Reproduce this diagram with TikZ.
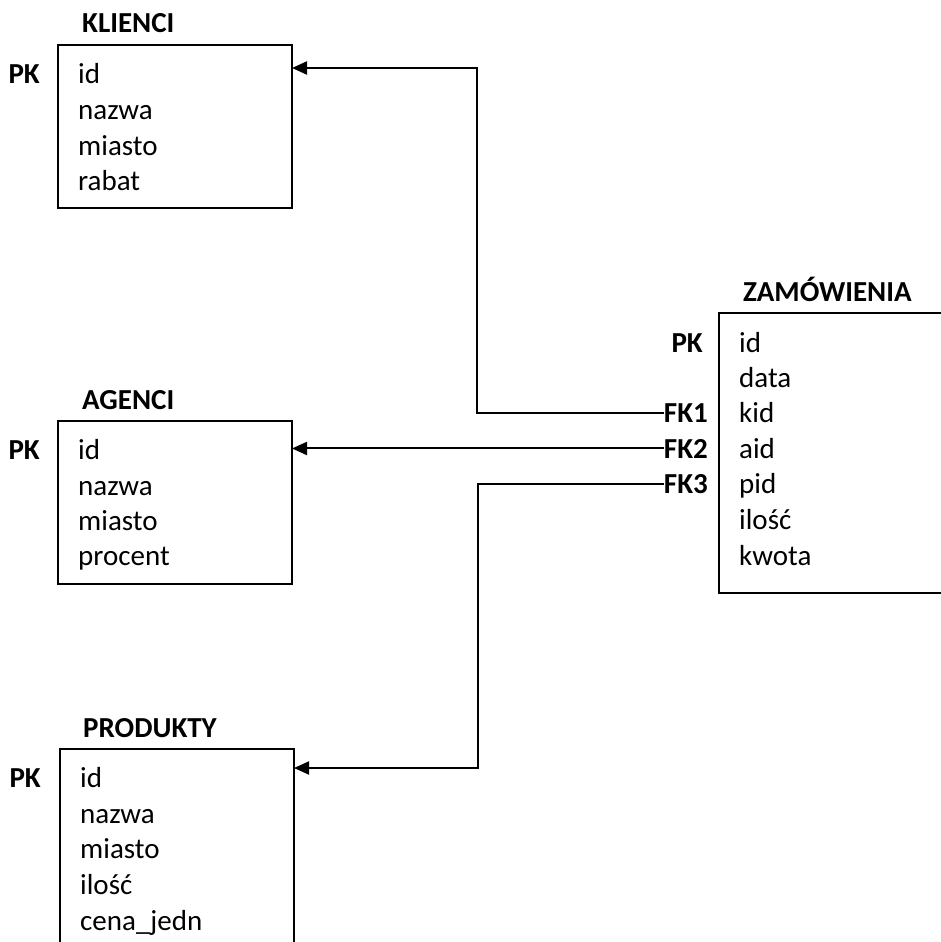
\documentclass[tikz,border=0pt]{standalone}
\usepackage{fontspec}
\setmainfont{Carlito}
\usetikzlibrary{arrows.meta}
\begin{document}
\begin{tikzpicture}[x=1pt,y=-1pt,
  txt/.style={anchor=base west,inner sep=0pt,font=\fontsize{29}{35}\selectfont},
  ttl/.style={anchor=base west,inner sep=0pt,font=\fontsize{29}{35}\selectfont\bfseries},
  key/.style={anchor=base east,inner sep=0pt,font=\fontsize{29}{35}\selectfont\bfseries},
  tbl/.style={draw,line width=2pt},
  conn/.style={line width=2pt},
  arr/.style={line width=2pt,-{Triangle[length=15pt,width=13pt]}}]
\useasboundingbox (0,0) rectangle (941,942);
\clip (0,0) rectangle (941,942);
% KLIENCI
\node[ttl] (tk) at (82,33) {KLIENCI};
\draw[tbl] (58,45) rectangle (292,208);
\coordinate (kl) at (292,68);
\node[key] (pk1) at (40,83) {PK};
\node[txt] (k1) at (78,83) {id};
\node[txt] (k2) at (78,119) {nazwa};
\node[txt] (k3) at (78,155) {miasto};
\node[txt] (k4) at (78,190.5) {rabat};
% AGENCI
\node[ttl] (ta) at (82,409) {AGENCI};
\draw[tbl] (58,421) rectangle (292,584);
\coordinate (ag) at (292,449);
\node[key] (pk2) at (40,459) {PK};
\node[txt] (a1) at (78,459) {id};
\node[txt] (a2) at (78,495) {nazwa};
\node[txt] (a3) at (78,530) {miasto};
\node[txt] (a4) at (78,565.5) {procent};
% PRODUKTY
\node[ttl] (tp) at (83,737) {PRODUKTY};
\draw[tbl] (60,749) rectangle (294,970);
\coordinate (pr) at (294,768);
\node[key] (pk3) at (41,787) {PK};
\node[txt] (p1) at (80,787) {id};
\node[txt] (p2) at (80,823) {nazwa};
\node[txt] (p3) at (80,858) {miasto};
\node[txt] (p4) at (80,894) {ilość};
\node[txt] (p5) at (80,930) {cena\_jedn};
% ZAMOWIENIA
\node[ttl] (tz) at (743,301) {ZAMÓWIENIA};
\draw[tbl] (719,313) rectangle (970,593);
\node[key] (pk4) at (703,352) {PK};
\node[key] (fk1) at (708,422) {FK1};
\node[key] (fk2) at (708,458) {FK2};
\node[key] (fk3) at (708,493) {FK3};
\node[txt] (z1) at (739,352) {id};
\node[txt] (z2) at (739,387) {data};
\node[txt] (z3) at (739,422) {kid};
\node[txt] (z4) at (739,458) {aid};
\node[txt] (z5) at (739,493) {pid};
\node[txt] (z6) at (739,529) {ilość};
\node[txt] (z7) at (739,565) {kwota};
% connectors
\coordinate (v1) at (477,68);
\coordinate (v3) at (478,768);
\draw[arr] (fk1.west) -| (v1) -- (kl);
\draw[arr] (fk2.west) -- (fk2.west -| ag) ;
\draw[arr] (fk3.west) -| (v3) -- (pr);
\end{tikzpicture}
\end{document}
